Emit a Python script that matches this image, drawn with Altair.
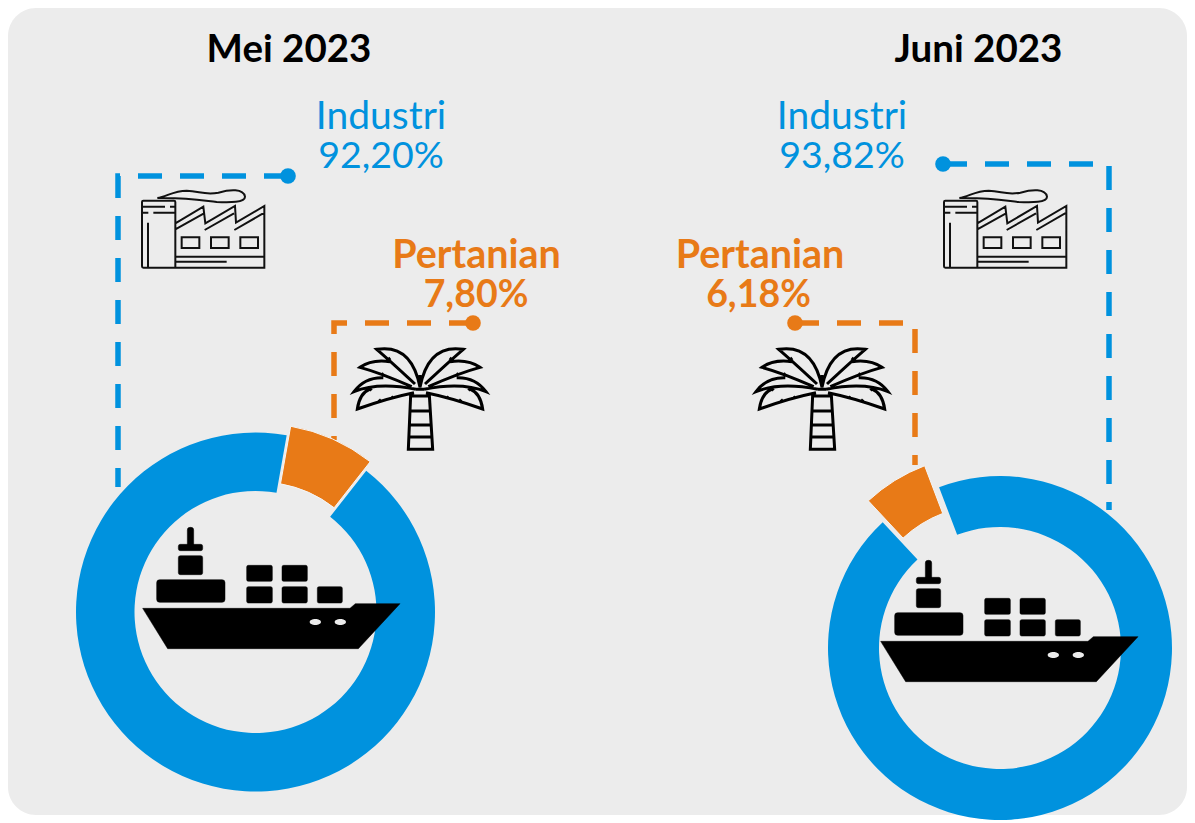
import altair as alt
import pandas as pd

# ---- values ----
months = ["Mei 2023", "Juni 2023"]
industri = [92.20, 93.82]
pertanian = [7.80, 6.18]
slice_start_deg = [10.0, 317.0]   # where the Pertanian slice begins

BLUE = "#0092DE"
ORANGE = "#E87A17"
PANEL = "#ECECEC"
FONT = "Lato"

# ---- layout (reference-image pixel space) ----
centers = [(255.5, 612), (1000, 648)]
shifted = [(259.5, 603), (985.6, 626.6)]
outer = [179.5, 172]
inner = [121, 121]

title_pos = [(289, 50), (978.5, 50)]
ind_pos = [(381, 117, 157), (842, 117, 157)]
per_pos = [(476.5, 256, 296, 476), (760, 256, 296, 758.5)]

connector_ind = [
    [(288, 176), (118, 176), (118, 487)],
    [(943, 164), (1109, 164), (1109, 510)],
]
connector_per = [
    [(473, 323), (334, 323), (334, 440)],
    [(795, 323), (915, 323), (915, 465)],
]
ship_anchor = [(130, 510), (868, 543)]
palm_anchor = [(340, 310), (742, 310)]
factory_anchor = [(130, 180), (932, 180)]

PW, PH = 1179, 812
X = alt.Scale(domain=[8, 8 + PW], range=[0, PW])
Y = alt.Scale(domain=[8, 8 + PH], range=[0, PH])
TH = alt.Scale(domain=[0, 720], range=[0, 12.566370614])


def xe(f="x"):
    return alt.X(f"{f}:Q", scale=X, axis=None)


def ye(f="y"):
    return alt.Y(f"{f}:Q", scale=Y, axis=None)


# ---- icon shapes (drawn in a 3x design space) ----
def rr(x0, y0, x1, y1, r=5):
    return (
        f"M{x0+r},{y0}L{x1-r},{y0}Q{x1},{y0} {x1},{y0+r}L{x1},{y1-r}Q{x1},{y1} {x1-r},{y1}"
        f"L{x0+r},{y1}Q{x0},{y1} {x0},{y1-r}L{x0},{y0+r}Q{x0},{y0} {x0+r},{y0}Z"
    )


def ell(cx, cy, rx, ry):
    return f"M{cx-rx},{cy}A{rx},{ry} 0 1 0 {cx+rx},{cy}A{rx},{ry} 0 1 0 {cx-rx},{cy}Z"


SHIP = "".join(
    [
        "M38,295L660,295L676,281L810,281L685,416L113,416Z",
        rr(172, 52, 191, 110, 8),
        rr(145, 103, 218, 122, 6),
        rr(145, 137, 218, 194, 6),
        rr(80, 209, 285, 277, 9),
        rr(350, 166, 427, 214, 5),
        rr(456, 166, 532, 214, 5),
        rr(350, 230, 427, 279, 5),
        rr(456, 230, 532, 279, 5),
        rr(562, 230, 637, 279, 5),
    ]
)
HOLES = ell(556, 336, 17, 9) + ell(631, 336, 17, 9)

FACTORY = (
    "M36,66Q36,62 40,62L132,62Q136,62 136,66L136,263L40,263Q36,263 36,259Z"
    "M36,80L105,80M120,80L136,80M36,98L55,98M70,98L136,98M54,128L54,263"
    "M136,130L220,80L226,130L315,78L318,128L403,78L403,263L136,263"
    "M136,148L222,100M224,150L312,100M313,150L403,98"
    "M155,172L208,172L208,204L155,204Z"
    "M243,172L296,172L296,204L243,204Z"
    "M331,172L384,172L384,204L331,204Z"
    "M136,230L403,230M136,245L290,245"
    "M82,54C110,50 130,32 170,32C210,34 225,46 265,38C300,28 340,25 345,50C345,68 300,68 260,66C210,60 170,52 82,54"
)

fronds = [
    [(240, 232), (215, 101), (110, 118), (143, 146), (225, 222)],
    [(150, 155), (95, 147), (60, 172), (123, 189), (215, 230)],
    [(130, 203), (74, 201), (42, 245), (115, 215), (228, 238)],
    [(90, 237), (59, 249), (52, 297), (143, 264), (222, 248)],
]
knots = [(148, 147), (128, 193), (92, 238), (120, 272), (157, 263)]


def frond_path(mirror):
    m = (lambda x: 480 - x) if mirror else (lambda x: x)
    out = ""
    for a, b, c, d, e in fronds:
        out += f"M{m(a[0])},{a[1]}Q{m(b[0])},{b[1]} {m(c[0])},{c[1]}Q{m(d[0])},{d[1]} {m(e[0])},{e[1]}"
    for k in knots:
        out += f"M{m(k[0]-4)},{k[1]+3}L{m(k[0]+3)},{k[1]-3}"
    return out


PALM = (
    frond_path(False)
    + frond_path(True)
    + "M212,255L205,418L278,418L268,255M212,258L268,258"
    + "M210,303L270,303M208,345L272,345M207,381L274,381"
    + "M228,238L252,238M240,232L240,195"
)

layers = []

# panel
layers.append(
    alt.Chart(pd.DataFrame({"a": [8], "b": [1187], "c": [8], "d": [815]}))
    .mark_rect(color=PANEL, cornerRadius=28)
    .encode(x=xe("a"), x2="b:Q", y=ye("c"), y2="d:Q")
)

# dashed connectors and dots
for conns, col in [(connector_ind, BLUE), (connector_per, ORANGE)]:
    for pts in conns:
        df = pd.DataFrame(pts, columns=["x", "y"]).assign(o=range(len(pts)))
        layers.append(
            alt.Chart(df)
            .mark_line(color=col, strokeWidth=5.5, strokeDash=[24, 18], strokeJoin="miter")
            .encode(x=xe(), y=ye(), order="o:Q")
        )
        layers.append(
            alt.Chart(df.iloc[[0]])
            .mark_circle(color=col, size=245, opacity=1)
            .encode(x=xe(), y=ye())
        )

# donuts
for i in range(2):
    a0 = slice_start_deg[i]
    a1 = a0 + pertanian[i] * 3.6
    a2 = a1 + industri[i] * 3.6
    layers.append(
        alt.Chart(pd.DataFrame({"x": [centers[i][0]], "y": [centers[i][1]], "t": [a1], "t2": [a2]}))
        .mark_arc(color=BLUE, radius=outer[i], radius2=inner[i])
        .encode(x=xe(), y=ye(), theta=alt.Theta("t:Q", scale=TH), theta2="t2:Q")
    )
    layers.append(
        alt.Chart(pd.DataFrame({"x": [shifted[i][0]], "y": [shifted[i][1]], "t": [a0], "t2": [a1]}))
        .mark_arc(color=ORANGE, radius=outer[i], radius2=inner[i], stroke="#F6F6F6", strokeWidth=1)
        .encode(x=xe(), y=ye(), theta=alt.Theta("t:Q", scale=TH), theta2="t2:Q")
    )


# icons
def icon(anchors, path, **kw):
    df = pd.DataFrame(anchors, columns=["x", "y"])
    return (
        alt.Chart(df)
        .mark_point(shape=path, size=4 / 9, opacity=1, **kw)
        .encode(x=xe(), y=ye())
    )


layers.append(icon(ship_anchor, SHIP, filled=True, fill="#000000", stroke="#000000", strokeWidth=0.5))
layers.append(icon(ship_anchor, HOLES, filled=True, fill=PANEL, strokeWidth=0))
layers.append(icon(factory_anchor, FACTORY, filled=False, stroke="#111111", strokeWidth=2))
layers.append(icon(palm_anchor, PALM, filled=False, stroke="#000000", strokeWidth=3))


# text
def label(txt, x, y, col, bold, size=39):
    return (
        alt.Chart(pd.DataFrame({"x": [x], "y": [y], "t": [txt]}))
        .mark_text(font=FONT, fontSize=size, fontWeight="bold" if bold else "normal",
                   color=col, align="center", baseline="middle")
        .encode(x=xe(), y=ye(), text="t:N")
    )


def pct(v):
    return f"{v:.2f}%".replace(".", ",")


for i in range(2):
    layers.append(label(months[i], title_pos[i][0], title_pos[i][1], "#000000", True, 38.5))
    x, y1, y2 = ind_pos[i]
    layers.append(label("Industri", x, y1, BLUE, False, 39))
    layers.append(label(pct(industri[i]), x, y2, BLUE, False, 37.5))
    x, y1, y2, x2 = per_pos[i]
    layers.append(label("Pertanian", x, y1, ORANGE, True, 39.5))
    layers.append(label(pct(pertanian[i]), x2, y2, ORANGE, True, 37.5))

chart = (
    alt.layer(*layers)
    .properties(width=PW, height=PH, padding=0, autosize=alt.AutoSizeParams(type="none"), background="#FFFFFF")
    .configure_view(stroke=None)
)
chart.save("out.html", embed_options={"renderer": "svg", "actions": False})
